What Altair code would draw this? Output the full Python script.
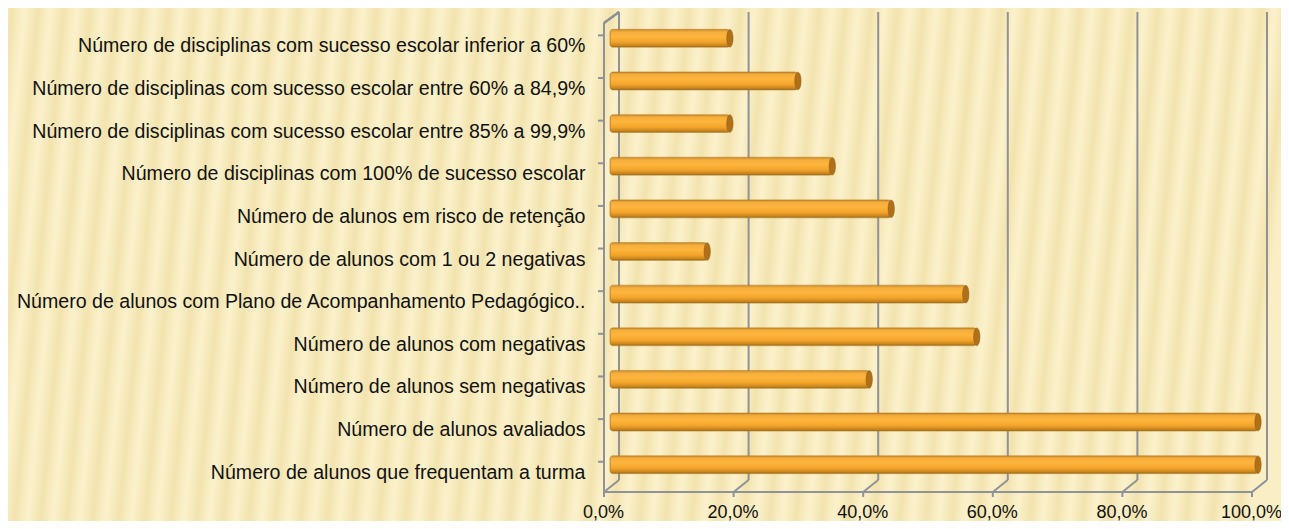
import altair as alt
import pandas as pd

categorias = [
    "Número de disciplinas com sucesso escolar inferior a 60%",
    "Número de disciplinas com sucesso escolar entre 60% a 84,9%",
    "Número de disciplinas com sucesso escolar entre 85% a 99,9%",
    "Número de disciplinas com 100% de sucesso escolar",
    "Número de alunos em risco de retenção",
    "Número de alunos com 1 ou 2 negativas",
    "Número de alunos com Plano de Acompanhamento Pedagógico..",
    "Número de alunos com negativas",
    "Número de alunos sem negativas",
    "Número de alunos avaliados",
    "Número de alunos que frequentam a turma",
]
valores = [0.185, 0.290, 0.185, 0.343, 0.434, 0.150, 0.549, 0.566, 0.400, 1.0, 1.0]
ticks_x = [0.0, 0.2, 0.4, 0.6, 0.8, 1.0]

df = pd.DataFrame({"categoria": categorias, "valor": valores})
df_ticks = pd.DataFrame({"t": ticks_x})
df_cats = pd.DataFrame({"categoria": categorias})

W, H = 648, 469
GRID = "#8F9297"
FRONT_DX, FRONT_DY = -6, 6     # front plane offset from bar (mid-depth) plane
BACK_DX, BACK_DY = 9, -5       # back wall offset

# soft striped background (style only)
stops = []
n = 50
for i in range(n):
    base = i / n
    stops.append(alt.GradientStop(offset=base, color="#FBF1CB"))
    stops.append(alt.GradientStop(offset=base + 0.5 / n, color="#F2E3AE"))
    stops.append(alt.GradientStop(offset=base + 0.85 / n, color="#FAEEC5"))
bg_grad = alt.Gradient(gradient="linear", x1=0, y1=0, x2=1, y2=0.04, stops=stops)

xscale = alt.Scale(domain=[0, 1], nice=False, zero=True)
yscale = alt.Scale(domain=categorias, paddingInner=0.58, paddingOuter=0.29)

background = alt.Chart(df_ticks).mark_rect(fill=bg_grad, strokeWidth=0).encode(
    x=alt.value(-610), x2=alt.value(690), y=alt.value(-17), y2=alt.value(520)
)

# back-wall vertical gridlines
grid = alt.Chart(df_ticks).mark_rule(color=GRID, strokeWidth=2, xOffset=BACK_DX).encode(
    x=alt.X("t:Q", scale=xscale),
    y=alt.value(BACK_DY),
    y2=alt.value(H - 6),
)

# diagonals on the floor from front ticks to back gridlines
diag = alt.Chart(df_ticks).mark_rule(
    color=GRID, strokeWidth=2, xOffset=FRONT_DX, x2Offset=BACK_DX
).encode(
    x=alt.X("t:Q", scale=xscale),
    x2="t:Q",
    y=alt.value(H + FRONT_DY),
    y2=alt.value(H - 6),
)

# front floor tick marks
xticks = alt.Chart(df_ticks).mark_rule(color=GRID, strokeWidth=2, xOffset=FRONT_DX).encode(
    x=alt.X("t:Q", scale=xscale),
    y=alt.value(H + FRONT_DY),
    y2=alt.value(H + FRONT_DY + 5),
)

# front floor edge
floor = alt.Chart(df_ticks).mark_rule(color=GRID, strokeWidth=2).encode(
    x=alt.value(FRONT_DX), x2=alt.value(W + FRONT_DX),
    y=alt.value(H + FRONT_DY), y2=alt.value(H + FRONT_DY),
)

# front vertical axis line
front = alt.Chart(df_ticks).mark_rule(color=GRID, strokeWidth=2).encode(
    x=alt.value(FRONT_DX), x2=alt.value(FRONT_DX),
    y=alt.value(FRONT_DY), y2=alt.value(H + FRONT_DY),
)

# top diagonal of the left wall
diag_top = alt.Chart(df_ticks).mark_rule(color=GRID, strokeWidth=2).encode(
    x=alt.value(FRONT_DX), x2=alt.value(BACK_DX),
    y=alt.value(FRONT_DY), y2=alt.value(BACK_DY),
)

# category tick marks on front axis (band edges)
yticks = alt.Chart(df_cats).mark_rule(color=GRID, strokeWidth=2, yOffset=FRONT_DY).encode(
    y=alt.Y("categoria:N", scale=yscale, sort=categorias, bandPosition=0),
    x=alt.value(FRONT_DX - 6),
    x2=alt.value(FRONT_DX),
)

bar_grad = alt.Gradient(
    gradient="linear", x1=0, y1=0, x2=0, y2=1,
    stops=[
        alt.GradientStop(offset=0.0, color="#C98A2A"),
        alt.GradientStop(offset=0.15, color="#F6AE3C"),
        alt.GradientStop(offset=0.4, color="#FDB53E"),
        alt.GradientStop(offset=0.7, color="#F3A42A"),
        alt.GradientStop(offset=0.9, color="#C9861E"),
        alt.GradientStop(offset=1.0, color="#8E6420"),
    ],
)

bars = alt.Chart(df).mark_bar(
    fill=bar_grad, stroke="#B47A22", strokeWidth=0.6, cornerRadius=3,
).encode(
    x=alt.X(
        "valor:Q", scale=xscale,
        axis=alt.Axis(
            values=ticks_x, title=None, grid=False, domain=False, ticks=False,
            labelFont="Liberation Sans", labelFontSize=18, labelColor="#111111",
            labelPadding=17, labelFlush=False, labelOffset=FRONT_DX - 1, zindex=2,
            labelExpr="replace(format(datum.value, '.1%'), '.', ',')",
        ),
    ),
    y=alt.Y(
        "categoria:N", scale=yscale, sort=categorias,
        axis=alt.Axis(
            title=None, domain=False, ticks=False,
            labelFont="Liberation Sans", labelFontSize=19.6, labelColor="#111111",
            labelPadding=25, labelLimit=700, labelAlign="right",
            labelOffset=FRONT_DY + 2, zindex=2,
        ),
    ),
)

caps = alt.Chart(df).mark_point(
    shape="M0,-1 A0.36,1 0 1,1 0,1 A0.36,1 0 1,1 0,-1 Z",
    filled=True, fill="#B07018", stroke="#8A5A18", strokeWidth=0.5,
    opacity=1, size=310,
).encode(
    x=alt.X("valor:Q", scale=xscale),
    y=alt.Y("categoria:N", scale=yscale, sort=categorias),
)

chart = alt.layer(
    background, grid, diag, xticks, floor, front, diag_top, yticks, bars, caps
).properties(
    width=W, height=H,
    autosize=alt.AutoSizeParams(type="none"),
    padding={"left": 602, "top": 9, "right": 23, "bottom": 35},
).configure(background="#F8EBBE").configure_view(stroke=None)

chart.save("out.html", embed_options={"renderer": "svg", "actions": False})
